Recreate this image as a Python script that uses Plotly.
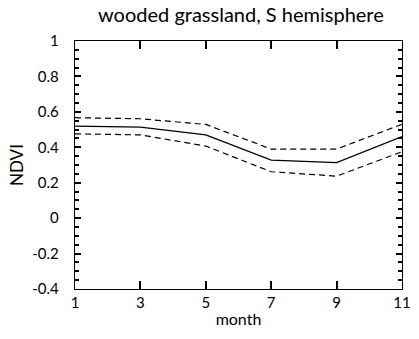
import plotly.graph_objects as go

# Monthly NDVI climatology: mean and spread bounds
months = [1, 3, 5, 7, 9, 11]
ndvi_mean = [0.52, 0.514, 0.47, 0.327, 0.313, 0.46]
ndvi_upper = [0.567, 0.561, 0.529, 0.39, 0.39, 0.53]
ndvi_lower = [0.476, 0.47, 0.407, 0.262, 0.237, 0.375]

x_ticks = [1, 3, 5, 7, 9, 11]
y_ticks = [-0.4, -0.2, 0, 0.2, 0.4, 0.6, 0.8, 1]
y_tick_text = ["-0.4", "-0.2", "0", "0.2", "0.4", "0.6", "0.8", "1"]

font_family = "Lato, 'DejaVu Sans', sans-serif"

fig = go.Figure()
fig.add_trace(go.Scatter(x=months, y=ndvi_upper, mode="lines",
                         line=dict(color="black", width=1.2, dash="6px,4px")))
fig.add_trace(go.Scatter(x=months, y=ndvi_lower, mode="lines",
                         line=dict(color="black", width=1.2, dash="6px,4px")))
fig.add_trace(go.Scatter(x=months, y=ndvi_mean, mode="lines",
                         line=dict(color="black", width=1.3)))

fig.update_layout(
    width=419, height=339,
    margin=dict(l=75, r=8, t=41, b=50),
    plot_bgcolor="white",
    showlegend=False,
    font=dict(family=font_family, size=15, color="black"),
    title=dict(text="wooded grassland, S hemisphere", x=0.575, xanchor="center",
               y=0.935, yanchor="bottom", font=dict(size=20, family=font_family)),
    xaxis=dict(
        range=[1, 11], tickvals=x_ticks,
        ticks="inside", ticklen=8, tickcolor="black", tickwidth=1.6,
        showline=True, linecolor="black", linewidth=1.4, mirror="allticks",
        gridcolor="white", zerolinecolor="white", ticklabeloverflow="allow",
        title=dict(text="month", standoff=3, font=dict(size=16)),
    ),
    yaxis=dict(
        range=[-0.4, 1], tickvals=y_ticks, ticktext=y_tick_text,
        ticks="inside", ticklen=6, tickcolor="black", tickwidth=1.6,
        minor=dict(dtick=0.05, ticks="inside", ticklen=4, tickcolor="black",
                   tickwidth=1.6, showgrid=False),
        showline=True, linecolor="black", linewidth=1.4, mirror="allticks",
        gridcolor="white", zerolinecolor="white", ticklabelstandoff=12,
        title=dict(text="NDVI", standoff=4, font=dict(size=17)),
    ),
)

fig.write_html("out.html")
